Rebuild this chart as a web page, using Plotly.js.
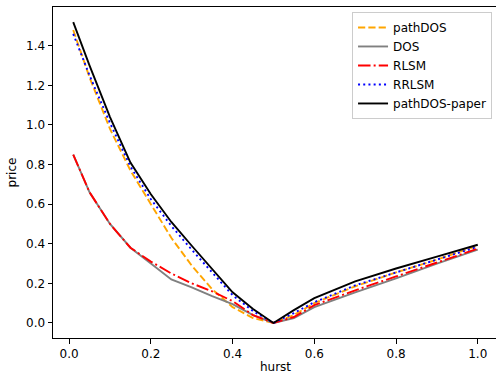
<!DOCTYPE html>
<html>
<head>
<meta charset="utf-8">
<script src="https://cdn.plot.ly/plotly-3.0.1.min.js"></script>
<style>
html,body{margin:0;padding:0;overflow:hidden;background:#fff;}
#chart{width:500px;height:375px;}
</style>
</head>
<body>
<div id="chart"></div>
<script>
const hurst = [0.01, 0.05, 0.1, 0.15, 0.2, 0.25, 0.3, 0.35, 0.4, 0.45, 0.5, 0.55, 0.6, 0.7, 0.8, 0.9, 1.0];
const pathDOS = [1.48, 1.24, 0.98, 0.77, 0.60, 0.43, 0.29, 0.17, 0.08, 0.025, 0.0, 0.04, 0.10, 0.185, 0.255, 0.32, 0.39];
const DOS = [0.85, 0.66, 0.50, 0.38, 0.30, 0.22, 0.18, 0.135, 0.095, 0.04, 0.0, 0.025, 0.08, 0.155, 0.225, 0.30, 0.37];
const RLSM = [0.85, 0.66, 0.50, 0.38, 0.31, 0.25, 0.20, 0.16, 0.11, 0.04, 0.0, 0.03, 0.09, 0.165, 0.235, 0.305, 0.375];
const RRLSM = [1.46, 1.25, 1.01, 0.79, 0.625, 0.49, 0.37, 0.255, 0.14, 0.06, 0.0, 0.05, 0.105, 0.19, 0.255, 0.32, 0.385];
const pathDOSPaper = [1.52, 1.30, 1.04, 0.81, 0.65, 0.51, 0.39, 0.27, 0.155, 0.07, 0.0, 0.065, 0.125, 0.21, 0.275, 0.335, 0.395];

const seriesNames = ['pathDOS', 'DOS', 'RLSM', 'RRLSM', 'pathDOS-paper'];
const seriesData = [pathDOS, DOS, RLSM, RRLSM, pathDOSPaper];
const seriesColors = ['#FFA500', '#808080', '#FF0000', '#0000FF', '#000000'];
const seriesDash = ['7.2px,3.1px', 'solid', '12.5px,3.1px,2px,3.1px', '2px,3.2px', 'solid'];

const traces = seriesNames.map((n, i) => ({
  x: hurst,
  y: seriesData[i],
  name: n,
  type: 'scatter',
  mode: 'lines',
  line: {color: seriesColors[i], width: 1.9, dash: seriesDash[i]}
}));

const FONT = {family: 'DejaVu Sans', size: 12, color: '#000'};

const axisCommon = {
  showgrid: false,
  zeroline: false,
  showline: true,
  mirror: true,
  linecolor: '#000',
  linewidth: 1,
  ticks: 'outside',
  ticklen: 4.5,
  tickwidth: 1,
  tickcolor: '#000',
  tickfont: FONT,
  tickformat: '.1f'
};

const layout = {
  width: 500,
  height: 375,
  margin: {l: 53, r: 2, t: 7, b: 37},
  paper_bgcolor: '#fff',
  plot_bgcolor: '#fff',
  showlegend: true,
  xaxis: Object.assign({}, axisCommon, {
    range: [-0.0395, 1.0495],
    tick0: 0, dtick: 0.2,
    title: {text: 'hurst', font: FONT, standoff: 2}
  }),
  yaxis: Object.assign({}, axisCommon, {
    range: [-0.076, 1.596],
    tick0: 0, dtick: 0.2,
    title: {text: 'price', font: FONT, standoff: 6}
  }),
  legend: {
    x: 0.672, y: 0.985, xanchor: 'left', yanchor: 'top',
    bgcolor: 'rgba(255,255,255,0.8)',
    bordercolor: '#cccccc', borderwidth: 1,
    font: FONT,
    entrywidth: 106,
    entrywidthmode: 'pixels',
    tracegroupgap: 0
  }
};

Plotly.newPlot('chart', traces, layout, {displayModeBar: false, staticPlot: true});
</script>
</body>
</html>
